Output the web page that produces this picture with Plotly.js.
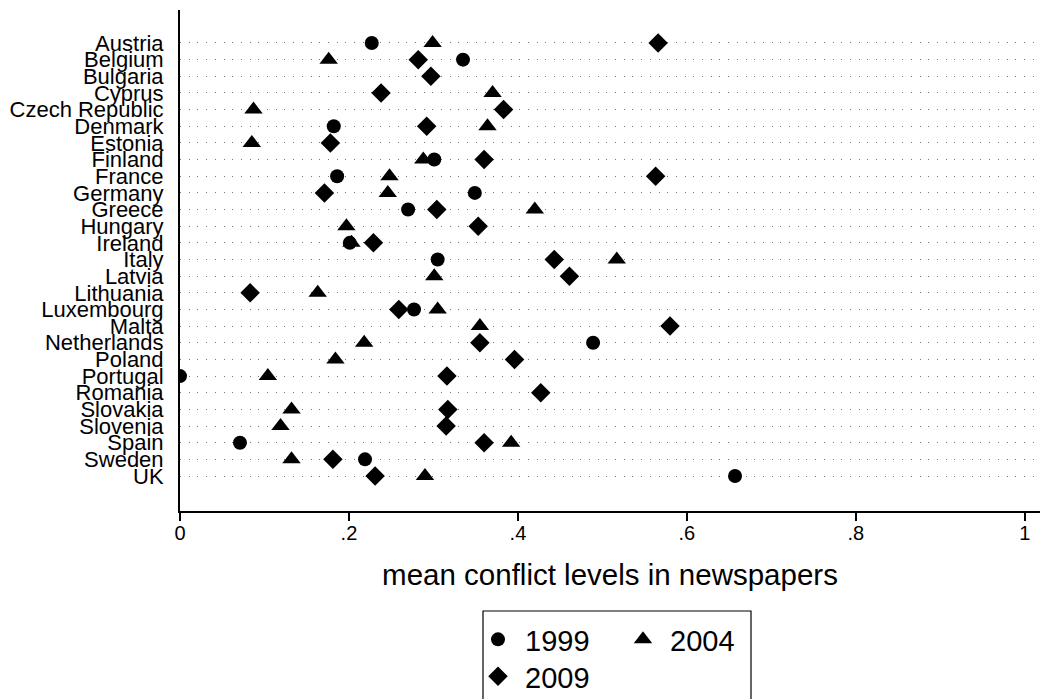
<!DOCTYPE html>
<html>
<head>
<meta charset="utf-8">
<script src="https://cdn.plot.ly/plotly-3.0.1.min.js"></script>
<style>
  html, body { margin: 0; padding: 0; background: #fff; }
  #chart { width: 1047px; height: 699px; }
</style>
</head>
<body>
<div id="chart"></div>
<script>
// Countries, top to bottom
const countries = [
  "Austria", "Belgium", "Bulgaria", "Cyprus", "Czech Republic", "Denmark",
  "Estonia", "Finland", "France", "Germany", "Greece", "Hungary", "Ireland",
  "Italy", "Latvia", "Lithuania", "Luxembourg", "Malta", "Netherlands",
  "Poland", "Portugal", "Romania", "Slovakia", "Slovenia", "Spain",
  "Sweden", "UK"
];

// Mean conflict level per country and election year (null = not covered)
const conflict1999 = [
  0.227, 0.335, null, null, null, 0.182, null, 0.301, 0.186, 0.349,
  0.270, null, 0.201, 0.305, null, null, 0.277, null, 0.489, null,
  0.000, null, null, null, 0.071, 0.219, 0.657
];
const conflict2004 = [
  0.299, 0.176, null, 0.370, 0.087, 0.364, 0.085, 0.288, 0.248, 0.246,
  0.420, 0.197, 0.203, 0.517, 0.301, 0.163, 0.305, 0.355, 0.218, 0.184,
  0.104, null, 0.132, 0.119, 0.392, 0.132, 0.290
];
const conflict2009 = [
  0.566, 0.282, 0.297, 0.238, 0.383, 0.292, 0.178, 0.360, 0.563, 0.171,
  0.304, 0.353, 0.229, 0.443, 0.461, 0.083, 0.259, 0.580, 0.355, 0.396,
  0.316, 0.427, 0.317, 0.315, 0.360, 0.181, 0.231
];

const seriesNames = ["1999", "2004", "2009"];
const xTickVals = [0, 0.2, 0.4, 0.6, 0.8, 1];
const xTickText = ["0", ".2", ".4", ".6", ".8", "1"];

const FONT = "Liberation Sans, Arial, Helvetica, sans-serif";

function series(name, values, symbol, size, legendId) {
  return {
    type: "scatter",
    mode: "markers",
    name: name,
    x: values,
    y: countries,
    legend: legendId,
    marker: { symbol: symbol, size: size, color: "#000", line: { width: 0 } },
    hoverinfo: "x+y+name"
  };
}

const traces = [
  series(seriesNames[0], conflict1999, "circle", 14, "legend"),
  series(seriesNames[1], conflict2004, "triangle-up", 16, "legend"),
  series(seriesNames[2], conflict2009, "diamond", 15, "legend2")
];

// plot area in pixels: left 180, right 1040, top 10, bottom 511
const PL = 180, PR = 1040, PT = 10, PB = 511;
const pxX = px => (px - PL) / (PR - PL);
const pxY = py => (PB - py) / (PB - PT);

const legendFont = { family: FONT, size: 29, color: "#000" };

const layout = {
  width: 1047,
  height: 699,
  margin: { l: PL, r: 1047 - PR, t: PT, b: 699 - PB, autoexpand: false },
  paper_bgcolor: "#fff",
  plot_bgcolor: "#fff",
  font: { family: FONT, color: "#000" },
  showlegend: true,
  xaxis: {
    range: [0, 1.018],
    tickmode: "array",
    tickvals: xTickVals,
    ticktext: xTickText,
    ticks: "outside",
    ticklen: 8,
    tickwidth: 1.5,
    tickcolor: "#000",
    ticklabelstandoff: -5,
    tickfont: { family: FONT, size: 20, color: "#000" },
    showline: true,
    linecolor: "#000",
    linewidth: 1.5,
    showgrid: false,
    zeroline: false,
    automargin: false,
    title: {
      text: "mean conflict levels in newspapers",
      font: { family: FONT, size: 29.5, color: "#000" },
      standoff: 22
    }
  },
  yaxis: {
    type: "category",
    categoryorder: "array",
    categoryarray: countries,
    range: [28.1, -1.98],
    tickmode: "array",
    tickvals: countries,
    ticktext: countries,
    ticks: "",
    ticklabelstandoff: 10,
    tickfont: { family: FONT, size: 22, color: "#000" },
    showline: true,
    linecolor: "#000",
    linewidth: 2,
    showgrid: true,
    gridcolor: "#777",
    gridwidth: 1,
    griddash: "1px,7.7px",
    zeroline: false,
    automargin: false
  },
  legend: {
    orientation: "h",
    x: pxX(471),
    y: pxY(614),
    xanchor: "left",
    yanchor: "top",
    font: legendFont,
    bgcolor: "rgba(0,0,0,0)",
    borderwidth: 0,
    itemwidth: 44,
    entrywidthmode: "pixels",
    entrywidth: 86,
    itemclick: false,
    itemdoubleclick: false
  },
  legend2: {
    orientation: "h",
    x: pxX(471),
    y: pxY(651),
    xanchor: "left",
    yanchor: "top",
    font: legendFont,
    bgcolor: "rgba(0,0,0,0)",
    borderwidth: 0,
    itemwidth: 44,
    itemclick: false,
    itemdoubleclick: false
  },
  shapes: [{
    type: "rect",
    xref: "paper",
    yref: "paper",
    x0: pxX(483),
    x1: pxX(751),
    y0: pxY(611),
    y1: pxY(706),
    line: { color: "#000", width: 1.2 },
    fillcolor: "rgba(0,0,0,0)",
    layer: "above"
  }]
};

Plotly.newPlot("chart", traces, layout, { displayModeBar: false, staticPlot: true });
</script>
</body>
</html>
